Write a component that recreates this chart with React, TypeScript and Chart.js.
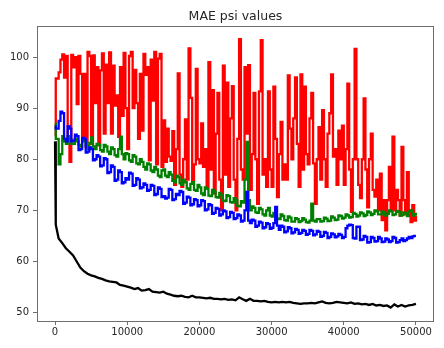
import React, { useEffect, useRef } from "react";
import { Chart, registerables } from "chart.js";

Chart.register(...registerables);

const TITLE = "MAE psi values";

// fine steps for red / green / blue (every 250 after the first points)
const stepsFine = [
  0, 100,
  500, 750, 1000, 1250, 1500, 1750, 2000, 2250, 2500, 2750, 3000, 3250, 3500, 3750, 4000, 4250, 4500, 4750,
  5000, 5250, 5500, 5750, 6000, 6250, 6500, 6750, 7000, 7250, 7500, 7750, 8000, 8250, 8500, 8750, 9000, 9250, 9500, 9750,
  10000, 10250, 10500, 10750, 11000, 11250, 11500, 11750, 12000, 12250, 12500, 12750, 13000, 13250, 13500, 13750, 14000, 14250, 14500, 14750,
  15000, 15250, 15500, 15750, 16000, 16250, 16500, 16750, 17000, 17250, 17500, 17750, 18000, 18250, 18500, 18750, 19000, 19250, 19500, 19750,
  20000, 20250, 20500, 20750, 21000, 21250, 21500, 21750, 22000, 22250, 22500, 22750, 23000, 23250, 23500, 23750, 24000, 24250, 24500, 24750,
  25000, 25250, 25500, 25750, 26000, 26250, 26500, 26750, 27000, 27250, 27500, 27750, 28000, 28250, 28500, 28750, 29000, 29250, 29500, 29750,
  30000, 30250, 30500, 30750, 31000, 31250, 31500, 31750, 32000, 32250, 32500, 32750, 33000, 33250, 33500, 33750, 34000, 34250, 34500, 34750,
  35000, 35250, 35500, 35750, 36000, 36250, 36500, 36750, 37000, 37250, 37500, 37750, 38000, 38250, 38500, 38750, 39000, 39250, 39500, 39750,
  40000, 40250, 40500, 40750, 41000, 41250, 41500, 41750, 42000, 42250, 42500, 42750, 43000, 43250, 43500, 43750, 44000, 44250, 44500, 44750,
  45000, 45250, 45500, 45750, 46000, 46250, 46500, 46750, 47000, 47250, 47500, 47750, 48000, 48250, 48500, 48750, 49000, 49250, 49500, 49750,
  50000,
];

// coarse steps for black (every 500 after the first points)
const stepsCoarse = [
  0, 100, 500, 1000, 1500, 2000, 2500, 3000, 3500, 4000, 4500, 5000, 5500, 6000, 6500, 7000, 7500, 8000, 8500, 9000, 9500,
  10000, 10500, 11000, 11500, 12000, 12500, 13000, 13500, 14000, 14500, 15000, 15500, 16000, 16500, 17000, 17500, 18000, 18500, 19000, 19500,
  20000, 20500, 21000, 21500, 22000, 22500, 23000, 23500, 24000, 24500, 25000, 25500, 26000, 26500, 27000, 27500, 28000, 28500, 29000, 29500,
  30000, 30500, 31000, 31500, 32000, 32500, 33000, 33500, 34000, 34500, 35000, 35500, 36000, 36500, 37000, 37500, 38000, 38500, 39000, 39500,
  40000, 40500, 41000, 41500, 42000, 42500, 43000, 43500, 44000, 44500, 45000, 45500, 46000, 46500, 47000, 47500, 48000, 48500, 49000, 49500,
  50000,
];

const redValues = [
  84.5, 95.8,
  97.0, 99.5, 100.5, 96.0, 100.2, 84.0, 79.5, 100.4, 98.0, 100.0, 90.8, 100.2, 96.7, 84.5, 96.7, 82.4, 101.0, 100.2,
  83.0, 100.3, 91.0, 98.0, 82.7, 97.4, 100.7, 85.0, 98.5, 91.0, 100.9, 85.0, 98.3, 90.5, 92.5, 84.4, 98.0, 88.5, 100.8, 90.0,
  82.0, 100.2, 101.0, 90.0, 97.5, 91.0, 84.0, 96.7, 85.6, 100.6, 96.5, 98.0, 79.8, 99.5, 91.5, 101.0, 79.0, 99.7, 100.6, 78.5,
  87.6, 79.5, 86.0, 80.5, 79.7, 85.5, 75.0, 82.0, 96.8, 77.0, 74.6, 80.0, 87.8, 76.0, 101.7, 92.0, 75.2, 79.0, 97.7, 80.0,
  79.2, 87.0, 78.5, 82.0, 74.6, 99.0, 78.0, 93.5, 73.3, 85.0, 93.0, 76.0, 70.0, 98.3, 77.0, 95.0, 74.6, 88.0, 94.3, 76.0,
  70.0, 84.0, 103.5, 78.0, 76.0, 98.0, 85.0, 98.4, 74.0, 81.0, 93.0, 80.0, 71.3, 93.3, 103.3, 77.0, 80.0, 74.6, 93.3, 78.0,
  74.6, 94.2, 84.0, 72.6, 81.0, 87.3, 76.0, 79.0, 76.0, 96.4, 86.0, 80.0, 88.0, 96.0, 83.0, 74.6, 96.6, 78.0, 94.2, 81.0,
  79.0, 88.0, 93.0, 79.2, 71.3, 80.0, 86.3, 76.0, 89.6, 80.0, 74.6, 85.0, 89.0, 96.6, 80.5, 82.0, 75.0, 85.6, 80.0, 86.6,
  75.0, 82.0, 94.8, 78.0, 69.7, 80.0, 101.6, 80.0, 75.0, 72.4, 80.0, 91.9, 78.0, 70.6, 80.0, 85.0, 74.0, 72.7, 76.0, 70.0,
  77.2, 68.1, 72.0, 66.1, 72.0, 78.5, 70.0, 84.4, 70.0, 74.0, 72.0, 69.0, 82.4, 72.0, 69.2, 77.5, 70.0, 67.7, 71.0, 68.0,
  69.0,
];

const greenValues = [
  87.0, 84.0,
  79.0, 81.0, 84.5, 83.5, 83.0, 84.5, 84.0, 83.0, 83.0, 84.0, 83.5, 82.8, 82.5, 83.6, 83.5, 82.6, 82.0, 83.2,
  84.3, 82.5, 82.0, 83.0, 82.8, 81.8, 81.5, 82.8, 82.5, 81.5, 81.0, 82.3, 82.0, 80.8, 80.5, 82.0, 84.4, 81.0, 80.0, 81.2,
  81.0, 79.8, 79.5, 80.8, 80.5, 79.2, 79.0, 80.0, 79.5, 78.5, 78.0, 79.2, 79.0, 77.8, 77.5, 78.5, 78.0, 76.8, 76.5, 77.8,
  78.0, 76.8, 76.5, 77.5, 77.0, 75.8, 75.5, 76.8, 76.5, 75.3, 75.0, 76.0, 75.5, 74.3, 74.0, 75.2, 75.5, 74.0, 73.8, 75.0,
  74.5, 73.3, 73.0, 74.5, 74.2, 72.9, 72.8, 74.0, 73.6, 72.6, 72.5, 73.4, 73.0, 71.9, 71.8, 73.0, 72.8, 71.6, 71.5, 72.4,
  72.0, 70.9, 70.8, 71.8, 71.5, 76.0, 83.4, 72.0, 70.0, 70.8, 70.5, 69.6, 69.5, 70.5, 70.2, 69.2, 69.0, 70.0, 70.5, 69.0,
  68.8, 69.5, 69.2, 68.4, 68.3, 69.2, 68.9, 68.1, 68.0, 68.8, 68.6, 67.8, 67.8, 68.5, 68.3, 67.7, 67.9, 68.5, 68.2, 67.7,
  67.6, 68.0, 71.3, 68.0, 67.8, 68.3, 68.3, 67.8, 67.9, 68.6, 68.4, 67.9, 68.0, 68.8, 68.6, 68.1, 68.2, 69.0, 68.9, 68.4,
  68.6, 69.2, 69.0, 68.6, 68.7, 69.5, 69.3, 68.8, 69.0, 69.6, 69.4, 68.9, 69.1, 69.8, 69.6, 69.1, 69.3, 70.0, 69.8, 69.2,
  69.2, 69.8, 69.6, 69.0, 69.3, 70.0, 69.8, 69.1, 69.2, 69.9, 69.7, 69.0, 69.1, 69.6, 69.4, 68.9, 69.8, 70.0, 69.0, 69.3,
  69.0,
];

const blueValues = [
  86.5, 86.0,
  87.5, 89.3, 89.0, 84.0, 83.5, 86.5, 86.0, 83.5, 83.7, 84.8, 84.5, 81.8, 82.0, 84.2, 84.0, 81.3, 81.5, 82.3,
  82.0, 79.8, 80.0, 80.8, 80.5, 78.6, 78.8, 80.2, 80.0, 77.3, 77.5, 78.8, 78.5, 75.8, 76.0, 77.8, 77.5, 75.3, 75.5, 76.3,
  76.0, 77.4, 77.2, 74.8, 75.0, 76.3, 76.0, 74.3, 74.5, 75.3, 75.0, 73.8, 74.0, 75.0, 74.8, 73.0, 73.2, 74.5, 74.2, 72.6,
  72.8, 72.3, 72.5, 74.2, 74.0, 72.0, 72.2, 73.2, 73.0, 73.8, 73.6, 71.3, 71.5, 72.7, 72.5, 71.0, 71.2, 72.2, 72.0, 70.8,
  71.0, 72.0, 71.8, 70.0, 70.2, 71.2, 71.0, 69.3, 69.5, 70.5, 70.3, 69.0, 69.2, 70.0, 69.8, 68.5, 68.7, 69.7, 69.5, 68.3,
  68.5, 69.2, 69.0, 67.8, 68.0, 70.0, 73.6, 68.0, 67.5, 68.2, 68.0, 66.8, 67.0, 67.8, 67.6, 66.5, 66.7, 67.5, 67.3, 66.4,
  66.6, 67.5, 70.7, 67.0, 66.2, 67.0, 66.8, 65.7, 65.9, 66.7, 66.5, 65.5, 65.7, 66.4, 66.2, 65.4, 65.6, 66.2, 66.0, 65.2,
  65.4, 66.2, 66.0, 65.1, 65.3, 66.0, 65.8, 64.8, 65.0, 65.8, 65.6, 64.6, 64.8, 65.5, 65.3, 64.7, 64.9, 65.4, 65.2, 64.6,
  64.8, 66.5, 67.0, 67.2, 67.1, 64.6, 64.5, 66.8, 66.8, 64.2, 64.3, 65.0, 64.8, 63.7, 63.8, 64.8, 64.6, 63.9, 64.0, 64.8,
  64.5, 63.8, 63.9, 64.5, 64.3, 63.8, 64.0, 64.8, 64.6, 63.7, 63.8, 64.2, 64.5, 64.0, 64.2, 64.5, 64.8, 64.6, 64.9, 65.0,
  65.0,
];

const blackValues = [
  83.5, 67.2, 64.5, 63.6, 62.6, 61.9, 61.2, 60.0, 58.8, 58.1, 57.6, 57.3, 57.1, 56.8, 56.6, 56.3, 56.1, 56.0, 55.9, 55.4, 55.3,
  55.1, 54.9, 54.6, 54.8, 54.3, 54.4, 54.6, 54.1, 54.0, 53.9, 54.1, 53.7, 53.5, 53.3, 53.2, 53.3, 53.1, 53.0, 53.3, 53.0,
  53.0, 52.9, 52.8, 52.9, 52.7, 52.7, 52.6, 52.7, 52.5, 52.6, 52.4, 53.0, 52.6, 52.3, 52.7, 52.3, 52.3, 52.2, 52.3, 52.1,
  52.0, 52.1, 52.0, 52.1, 52.0, 52.1, 51.9, 51.8, 51.7, 51.8, 51.8, 51.9, 51.8, 52.0, 52.2, 51.9, 51.8, 51.9, 52.1, 52.0,
  51.9, 51.8, 52.0, 51.7, 51.8, 51.6, 51.7, 51.5, 51.7, 51.4, 51.5, 51.3, 51.4, 51.0, 51.6, 51.2, 51.5, 51.2, 51.4, 51.5,
  51.7,
];

const xTicks = [0, 10000, 20000, 30000, 40000, 50000];
const yTicks = [50, 60, 70, 80, 90, 100];

const FONT = "DejaVu Sans";
const FRAME = "#6e6e6e";
const TEXT = "#262626";

function toPoints(xs: number[], vals: number[]) {
  return vals.map((v, i) => ({ x: xs[i], y: v }));
}

const framePlugin = {
  id: "frameAndTitle",
  afterDatasetsDraw(chart: any) {
    const { ctx, chartArea } = chart;
    const { left, right, top, bottom } = chartArea;
    ctx.save();
    ctx.strokeStyle = FRAME;
    ctx.lineWidth = 1;
    ctx.strokeRect(Math.round(left) + 0.5, Math.round(top) + 0.5, Math.round(right - left) - 1, Math.round(bottom - top));
    ctx.restore();
  },
  afterDraw(chart: any) {
    const { ctx, chartArea } = chart;
    ctx.save();
    ctx.fillStyle = TEXT;
    ctx.font = `12.5px "${FONT}"`;
    ctx.textAlign = "center";
    ctx.textBaseline = "alphabetic";
    ctx.fillText(TITLE, (chartArea.left + chartArea.right) / 2, 19.5);
    ctx.restore();
  },
};

export default function App() {
  const ref = useRef<HTMLCanvasElement | null>(null);

  useEffect(() => {
    if (!ref.current) return;
    const mk = (label: string, xs: number[], vals: number[], color: string, stepped: any) => ({
      label,
      data: toPoints(xs, vals),
      borderColor: color,
      backgroundColor: color,
      borderWidth: 2.3,
      pointRadius: 0,
      tension: 0,
      stepped,
      fill: false,
    });
    const chart = new Chart(ref.current, {
      type: "line",
      data: {
        datasets: [
          mk("black", stepsCoarse, blackValues, "#000000", false),
          mk("blue", stepsFine, blueValues, "#0000ff", "before"),
          mk("green", stepsFine, greenValues, "#008000", "before"),
          mk("red", stepsFine, redValues, "#ff0000", "before"),
        ],
      },
      options: {
        animation: false,
        responsive: false,
        maintainAspectRatio: false,
        devicePixelRatio: 1,
        layout: { padding: { left: 0, right: 10, top: 26, bottom: 0 } },
        plugins: { legend: { display: false }, tooltip: { enabled: false }, title: { display: false } },
        scales: {
          x: {
            type: "linear",
            min: -2500,
            max: 52500,
            afterBuildTicks: (scale: any) => {
              scale.ticks = xTicks.map((v) => ({ value: v }));
            },
            afterFit: (scale: any) => {
              scale.height = 27;
            },
            grid: { display: true, drawOnChartArea: false, drawTicks: true, tickLength: 4, color: FRAME },
            border: { display: false },
            ticks: { autoSkip: false, maxRotation: 0, padding: 1, color: TEXT, font: { family: FONT, size: 10 }, callback: (v: any) => String(v) },
          },
          y: {
            type: "linear",
            min: 48.36,
            max: 106.07,
            afterBuildTicks: (scale: any) => {
              scale.ticks = yTicks.map((v) => ({ value: v }));
            },
            afterFit: (scale: any) => {
              scale.width = 37;
            },
            grid: { display: true, drawOnChartArea: false, drawTicks: true, tickLength: 4, color: FRAME },
            border: { display: false },
            ticks: { autoSkip: false, padding: 4, color: TEXT, font: { family: FONT, size: 10 }, callback: (v: any) => String(v) },
          },
        },
      },
      plugins: [framePlugin],
    } as any);
    return () => chart.destroy();
  }, []);

  return (
    <div style={{ position: "fixed", left: 0, top: 0, width: 444, height: 348, background: "#fff" }}>
      <canvas ref={ref} width={444} height={348} style={{ display: "block" }} />
    </div>
  );
}
